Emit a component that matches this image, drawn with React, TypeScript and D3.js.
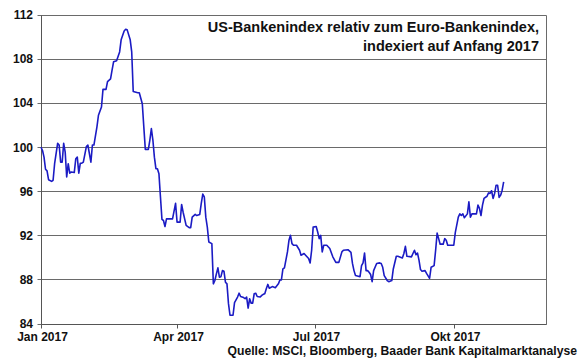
import React from 'react';
import * as d3 from 'd3';

// days since 1 Jan 2017
const dayOffsets = [
  0, 1, 2, 3, 4, 5, 7, 8, 9, 11, 12, 13, 14, 15, 16, 17, 18, 19, 20, 22,
  23, 24, 25, 26, 27, 28, 30, 31, 33, 34, 35, 37, 38, 40, 41, 43, 44, 46, 47, 48,
  50, 52, 53, 55, 56, 57, 59, 60, 61, 64, 65, 67, 68, 69, 71, 72, 73, 74, 75, 76,
  77, 78, 79, 80, 81, 82, 83, 86, 87, 89, 90, 92, 93, 94, 96, 98, 99, 100, 102, 103,
  105, 106, 107, 108, 109, 110, 111, 113, 114, 115, 116, 117, 118, 119, 120, 121, 122, 123, 124, 125,
  127, 128, 130, 131, 132, 134, 135, 136, 137, 138, 139, 140, 141, 142, 143, 145, 146, 147, 148, 149,
  150, 151, 153, 155, 157, 158, 159, 160, 161, 163, 164, 165, 166, 167, 169, 171, 172, 174, 175, 177,
  178, 179, 180, 182, 183, 184, 185, 186, 187, 189, 191, 193, 195, 197, 199, 200, 203, 205, 206, 207,
  208, 211, 212, 213, 214, 215, 216, 217, 218, 219, 220, 222, 224, 225, 226, 227, 229, 230, 232, 233,
  235, 236, 239, 240, 241, 242, 245, 246, 247, 248, 249, 250, 251, 252, 254, 255, 257, 258, 260, 261,
  262, 263, 264, 266, 267, 268, 269, 273, 274, 276, 277, 278, 279, 280, 282, 283, 284, 285, 288, 289,
  290, 291, 292, 293, 295, 296, 297, 298, 299, 300, 301, 302, 303, 304, 305, 306,
];

const values = [
  100.0, 99.7, 99.1, 98.0, 97.85, 97.05, 96.9, 97.0, 98.5, 100.35, 100.2, 98.65, 98.65, 100.35, 99.55, 97.3, 98.5, 97.65, 97.75, 97.7,
  98.95, 99.1, 97.65, 98.55, 98.55, 98.65, 100.05, 100.2, 98.65, 100.2, 100.2, 101.85, 102.9, 103.65, 105.25, 105.25, 105.95, 106.2, 107.0, 107.75,
  107.85, 108.65, 109.75, 110.55, 110.7, 110.65, 109.75, 108.65, 105.05, 104.95, 104.95, 103.95, 101.85, 99.8, 99.8, 100.65, 101.7, 100.65, 99.1, 98.05,
  98.05, 97.6, 95.5, 93.45, 93.35, 92.8, 93.5, 93.5, 93.5, 94.9, 93.2, 93.2, 94.8, 94.1, 92.9, 92.7, 92.7, 93.65, 93.9, 93.8,
  93.9, 94.9, 95.75, 95.5, 93.65, 92.75, 91.4, 91.25, 87.6, 87.9, 88.5, 89.05, 88.2, 88.25, 88.8, 88.75, 87.75, 87.6, 85.8, 84.75,
  84.75, 85.9, 86.4, 86.75, 86.45, 86.35, 86.25, 86.4, 85.4, 86.25, 85.85, 85.85, 86.7, 86.75, 86.45, 86.4, 86.55, 86.65, 86.7, 87.15,
  87.55, 87.2, 87.35, 87.25, 87.6, 87.95, 87.95, 88.95, 89.05, 90.5, 91.55, 92.0, 91.25, 91.1, 91.1, 90.65, 90.2, 90.35, 90.2, 89.9,
  89.5, 90.65, 92.75, 92.8, 92.3, 91.7, 92.0, 90.5, 91.1, 91.1, 90.8, 90.05, 89.55, 89.55, 90.5, 90.65, 90.7, 90.45, 89.45, 88.8,
  88.35, 88.25, 89.25, 89.5, 90.4, 88.8, 88.8, 88.65, 88.45, 87.8, 88.8, 89.45, 89.5, 89.45, 89.1, 88.35, 87.9, 87.8, 87.9, 88.95,
  90.1, 90.1, 89.95, 90.35, 91.0, 90.1, 90.05, 90.35, 90.65, 90.25, 90.4, 89.75, 88.9, 88.75, 88.8, 88.55, 88.1, 89.1, 89.25, 90.65,
  92.2, 91.7, 91.2, 91.2, 91.7, 91.55, 91.1, 91.1, 92.25, 93.65, 93.95, 93.8, 93.95, 93.6, 93.95, 95.05, 93.65, 93.95, 93.95, 94.75,
  94.45, 93.8, 94.75, 95.35, 95.55, 95.85, 95.8, 96.05, 95.35, 95.8, 96.55, 96.55, 95.45, 95.65, 96.1, 96.85,
];

const yTicks = [84, 88, 92, 96, 100, 104, 108, 112];
const xTickDates = ['2017-01-01', '2017-04-01', '2017-07-01', '2017-10-01'];
const xTickLabels = ['Jan 2017', 'Apr 2017', 'Jul 2017', 'Okt 2017'];
const titleLines = ['US-Bankenindex relativ zum Euro-Bankenindex,', 'indexiert auf Anfang 2017'];
const sourceText = 'Quelle: MSCI, Bloomberg, Baader Bank Kapitalmarktanalyse';

const FONT = '"Liberation Sans", Arial, sans-serif';

export default function App() {
  const W = 580;
  const H = 358;
  const left = 41;
  const right = 546;
  const top = 15;
  const bottom = 323.5;

  const start = new Date(2017, 0, 1);
  const x = d3.scaleTime().domain([start, new Date(2017, 11, 1)]).range([left, right]);
  const y = d3.scaleLinear().domain([84, 112]).range([bottom, top]);

  const data = dayOffsets.map((d, i) => ({ date: d3.timeDay.offset(start, d), value: values[i] }));
  const line = d3
    .line<{ date: Date; value: number }>()
    .x((d) => x(d.date))
    .y((d) => y(d.value));

  const crisp = (v: number) => Math.round(v) + 0.5;
  const parse = d3.timeParse('%Y-%m-%d');
  const yb = crisp(y(84));
  const xl = crisp(x(start));
  const xr = crisp(right);

  return (
    <svg width={W} height={H} style={{ position: 'absolute', left: 0, top: 0, background: '#fff' }}>
      <rect x={0} y={0} width={W} height={H} fill="#fff" />
      {yTicks.map((t) => (
        <g key={t}>
          <line x1={xl - 4} x2={xr} y1={crisp(y(t))} y2={crisp(y(t))} stroke="#6a6a6a" strokeWidth={1} />
          <text
            x={33}
            y={y(t)}
            dy="0.36em"
            textAnchor="end"
            fontFamily={FONT}
            fontWeight="bold"
            fontSize={12}
            fill="#111"
          >
            {t}
          </text>
        </g>
      ))}
      <line x1={xl} x2={xl} y1={crisp(top)} y2={yb} stroke="#555" strokeWidth={1} />
      <line x1={xr} x2={xr} y1={crisp(top)} y2={yb} stroke="#6a6a6a" strokeWidth={1} />
      <line x1={xl} x2={xr} y1={yb} y2={yb} stroke="#555" strokeWidth={1} />
      {xTickDates.map((s, i) => {
        const px = crisp(x(parse(s) as Date));
        return (
          <g key={s}>
            <line x1={px} x2={px} y1={yb} y2={yb + 4} stroke="#555" strokeWidth={1} />
            <text
              x={px + 1}
              y={340.5}
              textAnchor="middle"
              fontFamily={FONT}
              fontWeight="bold"
              fontSize={12}
              fill="#111"
            >
              {xTickLabels[i]}
            </text>
          </g>
        );
      })}
      <path d={line(data) || ''} fill="none" stroke="#1b1bc4" strokeWidth={1.6} strokeLinejoin="round" />
      {titleLines.map((t, i) => (
        <text
          key={i}
          x={539}
          y={32 + i * 19}
          textAnchor="end"
          fontFamily={FONT}
          fontWeight="bold"
          fontSize={14.5}
          fill="#111"
        >
          {t}
        </text>
      ))}
      <text x={577} y={354.5} textAnchor="end" fontFamily={FONT} fontWeight="bold" fontSize={12.2} fill="#111">
        {sourceText}
      </text>
    </svg>
  );
}
